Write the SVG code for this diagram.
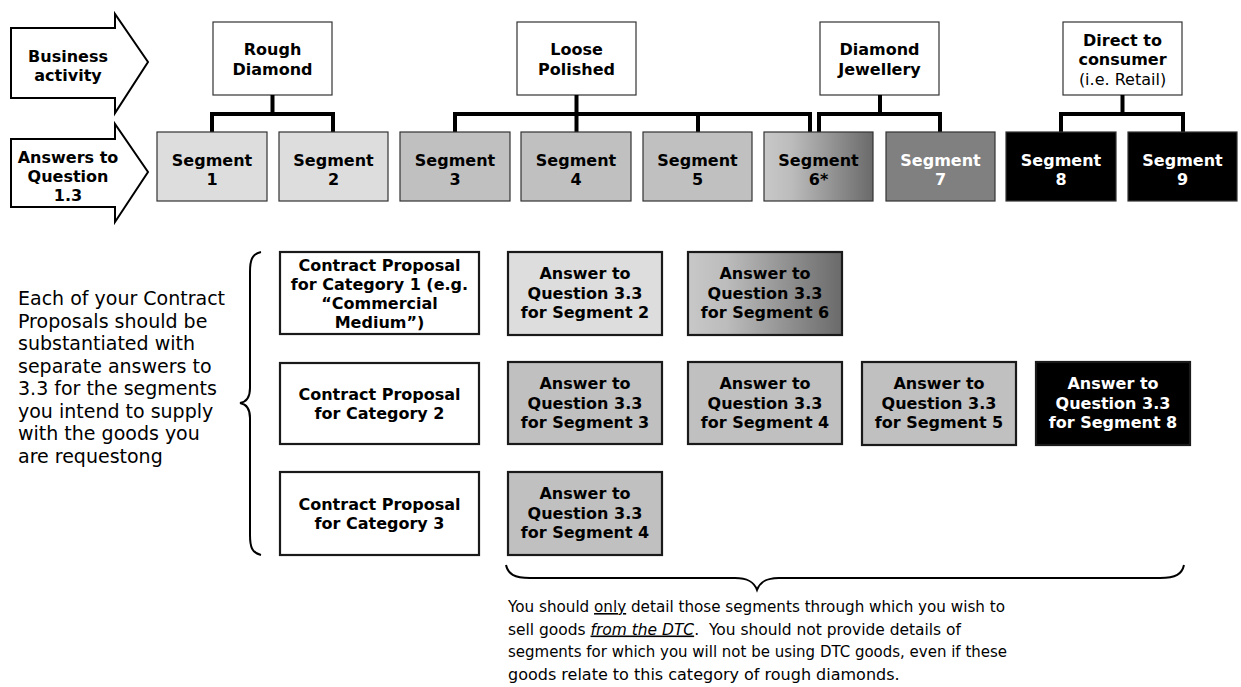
<svg xmlns="http://www.w3.org/2000/svg" width="1241" height="687" viewBox="0 0 1241 687">
<style>
.t{font-family:"DejaVu Sans","Liberation Sans",sans-serif;font-size:16px;font-weight:bold;text-anchor:middle;fill:#000}
.w{fill:#fff}
.reg{font-weight:normal}
.note{font-family:"DejaVu Sans","Liberation Sans",sans-serif;font-size:19px;fill:#000}
.note2{font-family:"DejaVu Sans","Liberation Sans",sans-serif;font-size:16px;fill:#000;white-space:pre}
.arrow{fill:#fff;stroke:#000;stroke-width:2;stroke-linejoin:miter}
.top{fill:#fff;stroke:#333;stroke-width:1.2}
.seg{stroke:#333;stroke-width:1.2}
.box{stroke:#1a1a1a;stroke-width:2.2}
.c1{fill:#dddddd}.c2{fill:#c0c0c0}.c3{fill:#808080}.c4{fill:#000}.c0{fill:#fff}
.conn{fill:none;stroke:#000;stroke-width:4}
.brace{fill:none;stroke:#000;stroke-width:2}
</style>
<defs>
<linearGradient id="g6" x1="0" y1="0" x2="1" y2="0">
<stop offset="0" stop-color="#c8c8c8"/>
<stop offset="0.25" stop-color="#bcbcbc"/>
<stop offset="1" stop-color="#6a6a6a"/>
</linearGradient>
</defs>

<g id="arrow-business">
<path class="arrow" d="M11,28 H115 V14 L148,62 L115,113 V98 H11 Z"/>
<text class="t" x="68" y="62">Business</text>
<text class="t" x="68" y="81">activity</text>
</g>
<g id="arrow-answers">
<path class="arrow" d="M11,139 H115 V124 L148,172 L115,222 V207 H11 Z"/>
<text class="t" x="68" y="163">Answers to</text>
<text class="t" x="68" y="182">Question</text>
<text class="t" x="68" y="201">1.3</text>
</g>

<g id="act-rough">
<rect class="top" x="213" y="22" width="119" height="73"/>
<text class="t" x="272.5" y="55">Rough</text>
<text class="t" x="272.5" y="75">Diamond</text>
</g>
<g id="act-loose">
<rect class="top" x="517" y="22" width="119" height="73"/>
<text class="t" x="576.5" y="55">Loose</text>
<text class="t" x="576.5" y="75">Polished</text>
</g>
<g id="act-jewellery">
<rect class="top" x="820" y="22" width="119" height="73"/>
<text class="t" x="879.5" y="55">Diamond</text>
<text class="t" x="879.5" y="75">Jewellery</text>
</g>
<g id="act-dtc">
<rect class="top" x="1063" y="22" width="119" height="73"/>
<text class="t" x="1122.5" y="45.5">Direct to</text>
<text class="t" x="1122.5" y="65">consumer</text>
<text class="t reg" x="1122.5" y="84.5">(i.e. Retail)</text>
</g>

<g id="connectors">
<path class="conn" d="M272.5,95 V114 M212,132 V114 H333 V132"/>
<path class="conn" d="M576.5,95 V132 M455,132 V114 H810 V132 M698,114 V132"/>
<path class="conn" d="M880,95 V114 M819,132 V114 H940 V132"/>
<path class="conn" d="M1122.5,95 V114 M1061,132 V114 H1183 V132"/>
</g>

<g id="seg1"><rect class="seg c1" x="157" y="132" width="110" height="69"/><text class="t" x="212" y="166">Segment</text><text class="t" x="212" y="185">1</text></g>
<g id="seg2"><rect class="seg c1" x="279" y="132" width="109" height="69"/><text class="t" x="333.5" y="166">Segment</text><text class="t" x="333.5" y="185">2</text></g>
<g id="seg3"><rect class="seg c2" x="400" y="132" width="110" height="69"/><text class="t" x="455" y="166">Segment</text><text class="t" x="455" y="185">3</text></g>
<g id="seg4"><rect class="seg c2" x="521" y="132" width="110" height="69"/><text class="t" x="576" y="166">Segment</text><text class="t" x="576" y="185">4</text></g>
<g id="seg5"><rect class="seg c2" x="643" y="132" width="109" height="69"/><text class="t" x="697.5" y="166">Segment</text><text class="t" x="697.5" y="185">5</text></g>
<g id="seg6"><rect class="seg" fill="url(#g6)" x="764" y="132" width="109" height="69"/><text class="t" x="818.5" y="166">Segment</text><text class="t" x="818.5" y="185">6*</text></g>
<g id="seg7"><rect class="seg c3" x="886" y="132" width="109" height="69"/><text class="t w" x="940.5" y="166">Segment</text><text class="t w" x="940.5" y="185">7</text></g>
<g id="seg8"><rect class="seg c4" x="1006" y="132" width="110" height="69"/><text class="t w" x="1061" y="166">Segment</text><text class="t w" x="1061" y="185">8</text></g>
<g id="seg9"><rect class="seg c4" x="1128" y="132" width="109" height="69"/><text class="t w" x="1182.5" y="166">Segment</text><text class="t w" x="1182.5" y="185">9</text></g>

<g id="note-left">
<text class="note" x="18" y="305">Each of your Contract</text>
<text class="note" x="18" y="327.5">Proposals should be</text>
<text class="note" x="18" y="350">substantiated with</text>
<text class="note" x="18" y="372.5">separate answers to</text>
<text class="note" x="18" y="395">3.3 for the segments</text>
<text class="note" x="18" y="417.5">you intend to supply</text>
<text class="note" x="18" y="440">with the goods you</text>
<text class="note" x="18" y="462.5">are requestong</text>
</g>

<g id="brace-left">
<path class="brace" d="M261,252 C252,254 250,260 250,272 V388 C250,398 246,402 240,403 C246,404 250,408 250,418 V535 C250,547 252,553 261,555"/>
</g>

<g id="cp1"><rect class="box c0" x="280" y="252" width="199" height="82"/>
<text class="t" x="379.5" y="271">Contract Proposal</text>
<text class="t" x="379.5" y="290">for Category 1 (e.g.</text>
<text class="t" x="379.5" y="309">“Commercial</text>
<text class="t" x="379.5" y="328">Medium”)</text></g>
<g id="cp2"><rect class="box c0" x="280" y="363" width="199" height="81"/>
<text class="t" x="379.5" y="400">Contract Proposal</text>
<text class="t" x="379.5" y="419">for Category 2</text></g>
<g id="cp3"><rect class="box c0" x="280" y="472" width="199" height="83"/>
<text class="t" x="379.5" y="510">Contract Proposal</text>
<text class="t" x="379.5" y="529">for Category 3</text></g>

<g id="ans-2"><rect class="box c1" x="508" y="252" width="154" height="83"/>
<text class="t" x="585" y="279">Answer to</text><text class="t" x="585" y="298.5">Question 3.3</text><text class="t" x="585" y="318">for Segment 2</text></g>
<g id="ans-6"><rect class="box" fill="url(#g6)" x="688" y="252" width="154" height="83"/>
<text class="t" x="765" y="279">Answer to</text><text class="t" x="765" y="298.5">Question 3.3</text><text class="t" x="765" y="318">for Segment 6</text></g>
<g id="ans-3"><rect class="box c2" x="508" y="362" width="154" height="82"/>
<text class="t" x="585" y="389">Answer to</text><text class="t" x="585" y="408.5">Question 3.3</text><text class="t" x="585" y="428">for Segment 3</text></g>
<g id="ans-4a"><rect class="box c2" x="688" y="362" width="154" height="82"/>
<text class="t" x="765" y="389">Answer to</text><text class="t" x="765" y="408.5">Question 3.3</text><text class="t" x="765" y="428">for Segment 4</text></g>
<g id="ans-5"><rect class="box c2" x="862" y="362" width="154" height="83"/>
<text class="t" x="939" y="389">Answer to</text><text class="t" x="939" y="408.5">Question 3.3</text><text class="t" x="939" y="428">for Segment 5</text></g>
<g id="ans-8"><rect class="box c4" x="1036" y="362" width="154" height="83"/>
<text class="t w" x="1113" y="389">Answer to</text><text class="t w" x="1113" y="408.5">Question 3.3</text><text class="t w" x="1113" y="428">for Segment 8</text></g>
<g id="ans-4b"><rect class="box c2" x="508" y="472" width="154" height="83"/>
<text class="t" x="585" y="499">Answer to</text><text class="t" x="585" y="518.5">Question 3.3</text><text class="t" x="585" y="538">for Segment 4</text></g>

<g id="brace-bottom">
<path class="brace" d="M506,565 C508,574 514,578 530,578 H735 C748,578 754,582 757,590 C760,582 766,578 779,578 H1160 C1176,578 1182,574 1184,565"/>
</g>

<g id="note-bottom">
<text class="note2" x="508" y="612" textLength="497" lengthAdjust="spacingAndGlyphs">You should <tspan text-decoration="underline">only</tspan> detail those segments through which you wish to</text>
<text class="note2" x="508" y="634.5" textLength="453" lengthAdjust="spacingAndGlyphs">sell goods <tspan font-style="italic" text-decoration="underline">from the DTC</tspan>.  You should not provide details of</text>
<text class="note2" x="508" y="657" textLength="499" lengthAdjust="spacingAndGlyphs">segments for which you will not be using DTC goods, even if these</text>
<text class="note2" x="508" y="679.5">goods relate to this category of rough diamonds.</text>
</g>
</svg>
